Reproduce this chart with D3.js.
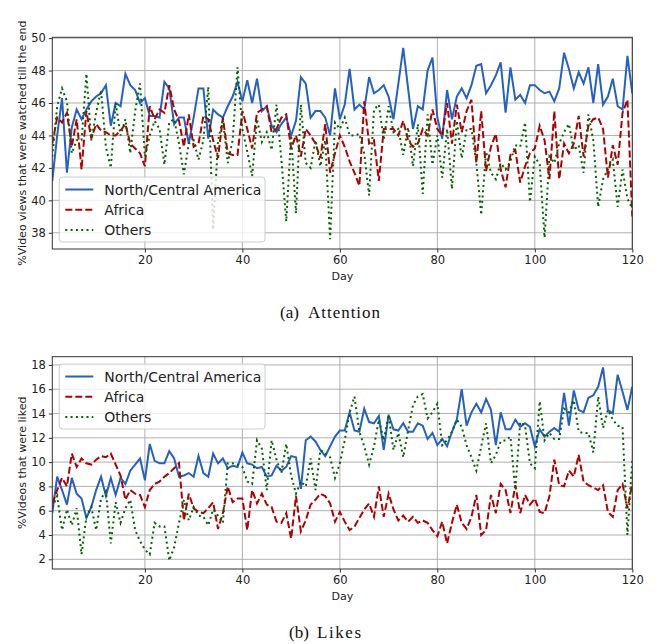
<!DOCTYPE html>
<html>
<head>
<meta charset="utf-8">
<script src="https://cdn.jsdelivr.net/npm/d3@7"></script>
<style>
  body { margin: 0; background: #fff; }
  svg text { font-family: "DejaVu Sans", sans-serif; fill: #222; }
  .caption { font-family: "Liberation Serif", "DejaVu Serif", serif; fill: #111; }
</style>
</head>
<body>
<svg id="chart" width="657" height="644"></svg>
<script>
const days = d3.range(1, 121)
const seriesNames = ['North/Central America', 'Africa', 'Others']

const attnNA = [41.2,44.0,46.3,41.7,44.5,45.6,45.0,45.6,46.1,46.4,46.6,47.1,44.6,46.0,45.8,47.8,47.1,46.8,46.0,46.3,
  45.2,45.2,45.1,47.3,46.9,44.7,45.1,45.1,43.5,45.1,46.9,46.9,43.8,45.6,45.3,45.1,45.8,46.4,47.3,46.1,
  47.4,46.0,47.5,45.5,45.8,44.6,44.2,44.7,45.1,44.0,44.9,47.6,47.2,45.1,45.5,45.5,45.1,44.0,46.9,45.0,
  45.9,48.1,45.6,45.9,45.6,47.6,46.6,46.8,47.1,46.4,45.0,47.2,49.4,46.9,44.4,45.8,45.6,48.0,48.8,45.1,
  43.8,46.8,45.0,46.4,46.9,46.3,47.1,48.3,48.4,46.6,47.1,47.7,48.5,45.4,48.2,46.2,46.5,46.0,47.1,47.1,
  46.8,46.6,46.7,46.1,46.9,49.1,48.1,46.9,47.9,47.2,48.2,46.0,48.4,45.9,46.4,47.5,45.8,45.6,48.9,46.6]
const attnAF = [43.5,45.1,44.8,45.4,43.3,45.0,41.9,45.5,43.8,44.7,44.3,44.2,44.0,44.0,44.3,44.7,43.5,43.2,42.9,42.1,
  45.8,45.0,45.6,45.4,47.1,45.6,44.9,43.3,45.3,43.3,43.5,45.2,45.0,43.7,42.6,45.1,42.9,42.8,42.8,45.5,
  44.4,43.2,45.4,45.6,45.8,44.2,44.4,45.1,45.3,43.2,44.0,42.7,44.4,44.0,43.5,42.6,44.7,41.7,42.9,44.0,
  43.3,42.4,41.7,40.9,46.1,43.5,43.7,41.2,44.4,44.4,44.4,44.0,44.9,43.7,43.3,43.5,44.4,44.0,45.6,44.4,
  44.0,46.0,43.5,45.9,44.2,45.5,46.2,42.3,45.5,41.8,43.3,44.1,41.9,40.8,42.8,43.1,41.1,42.1,42.9,43.2,
  44.6,43.7,41.3,45.5,41.3,43.5,42.9,43.5,45.2,42.7,44.6,45.0,45.1,44.4,41.4,43.4,42.2,45.4,46.2,39.0]
const attnOT = [42.7,45.8,46.9,46.1,42.9,43.7,43.7,47.8,43.7,45.4,46.8,43.3,42.0,46.0,44.0,45.0,42.9,45.5,47.2,42.7,
  44.0,44.9,44.4,42.2,44.8,45.0,43.5,41.6,43.5,43.7,42.5,43.7,47.0,38.2,43.7,45.0,42.3,43.7,48.2,44.4,
  43.0,41.5,45.0,43.6,44.2,43.1,45.9,42.5,38.7,44.0,39.2,45.9,42.3,42.0,43.7,42.1,43.7,37.6,44.8,44.4,
  45.1,44.0,44.0,44.1,42.9,40.3,45.6,45.9,43.7,45.8,44.2,44.4,42.8,44.5,42.1,44.7,40.4,45.3,42.2,44.0,
  41.4,44.4,40.7,44.9,42.6,44.4,44.4,42.3,39.1,43.0,41.7,41.3,42.3,41.9,42.4,43.4,43.3,44.8,39.9,42.7,
  42.2,37.7,42.7,42.3,43.5,44.2,44.7,43.1,43.4,41.7,45.3,43.7,39.6,41.3,41.9,42.5,39.6,41.9,40.1,39.5]

const likesNA = [5.8,8.8,7.7,6.5,8.7,7.4,7.0,5.4,6.3,7.7,8.8,7.2,8.7,7.3,8.7,8.2,9.3,9.8,10.3,8.5,
  11.5,10.1,9.9,9.9,10.9,10.3,8.8,8.9,9.1,8.8,10.5,9.1,8.8,10.7,9.9,10.3,9.5,9.7,9.6,10.8,
  9.9,9.8,9.5,9.6,8.8,8.9,9.7,9.3,9.6,10.5,10.4,7.8,11.8,12.1,11.7,11.0,10.5,11.3,12.1,12.6,
  12.6,14.1,12.6,12.5,14.4,13.3,13.2,13.8,11.0,13.9,12.7,12.6,13.2,12.5,12.5,13.2,13.0,11.9,12.4,11.4,
  11.9,11.3,12.5,13.5,16.0,13.0,14.1,14.8,14.1,15.2,14.3,11.4,14.1,12.7,12.7,13.5,12.9,13.2,12.9,11.3,
  12.7,12.1,12.5,12.8,12.5,15.7,13.0,15.9,14.3,14.1,15.3,15.5,16.2,17.8,14.3,14.0,17.2,15.8,14.3,16.2]
const likesAF = [6.6,7.7,8.7,8.0,10.7,9.6,10.3,9.9,9.8,10.2,10.5,10.4,10.7,9.8,8.9,6.9,7.7,7.4,7.3,6.3,
  7.7,8.2,8.4,8.8,9.1,9.5,9.9,5.2,7.4,6.2,5.9,5.8,6.2,6.7,4.5,5.8,8.0,6.7,7.0,7.0,
  4.4,7.7,6.6,7.4,6.5,6.3,5.1,5.0,5.8,3.7,7.2,4.3,5.2,6.5,6.9,7.4,7.2,6.6,5.1,5.9,
  5.1,4.4,4.7,5.4,6.1,6.6,5.5,8.0,5.5,7.4,6.1,5.2,5.6,5.1,5.5,5.0,5.2,5.0,4.4,3.9,
  5.1,3.3,5.0,6.5,5.0,4.5,5.5,7.3,4.0,4.4,7.3,5.8,8.2,7.7,5.8,8.1,5.8,7.3,6.5,7.0,
  5.9,5.8,7.2,10.2,8.1,8.0,9.3,8.8,10.6,8.4,8.1,7.9,7.7,8.1,5.9,5.5,7.7,8.2,6.2,8.2]
const likesOT = [6.3,7.2,4.4,6.1,4.8,6.2,2.4,5.5,6.3,4.4,7.0,7.6,3.3,6.7,5.0,6.2,6.9,4.4,3.5,2.8,
  2.4,5.0,4.7,4.7,1.9,3.0,5.0,6.9,5.2,6.3,5.6,5.5,4.8,6.1,5.6,5.0,9.9,9.9,9.8,9.6,
  8.4,8.2,11.8,11.1,7.7,11.8,10.2,9.1,11.5,8.9,7.4,8.4,8.0,10.3,7.7,11.0,10.7,10.4,8.7,9.9,
  11.8,14.1,15.4,12.5,11.3,9.8,11.3,13.5,11.8,13.9,11.0,12.4,10.4,12.6,14.7,15.4,15.6,13.6,14.1,14.8,
  11.4,11.8,12.5,13.5,12.9,11.4,10.4,9.3,11.3,13.2,9.9,10.6,11.7,11.8,12.1,7.7,13.3,13.0,9.9,9.5,
  15.0,11.8,12.4,11.9,11.9,14.4,14.1,15.1,12.5,12.4,12.4,10.8,15.4,12.8,14.3,13.5,13.0,12.9,4.0,10.2]

const xTicks = [20, 40, 60, 80, 100, 120]
const attnTicks = [38, 40, 42, 44, 46, 48, 50]
const likesTicks = [2, 4, 6, 8, 10, 12, 14, 16, 18]

const styles = [
  { color: '#2461c5', dash: null },
  { color: '#b00000', dash: '7,3' },
  { color: '#006400', dash: '2,3.3' }
]

const svg = d3.select('#chart')
const left = 52.3, right = 632.3

function drawPanel(cfg) {
  const { top, bottom, domain, ticks, series, ylabel, caption, legendTop } = cfg
  const x = d3.scaleLinear().domain([1, 120]).range([left, right])
  const y = d3.scaleLinear().domain(domain).range([bottom, top])
  const g = svg.append('g')

  // grid
  g.append('g').selectAll('line').data(ticks).enter().append('line')
    .attr('x1', left).attr('x2', right)
    .attr('y1', d => y(d)).attr('y2', d => y(d))
    .attr('stroke', '#b0b0b0').attr('stroke-width', 1)
  g.append('g').selectAll('line').data(xTicks).enter().append('line')
    .attr('y1', top).attr('y2', bottom)
    .attr('x1', d => x(d)).attr('x2', d => x(d))
    .attr('stroke', '#b0b0b0').attr('stroke-width', 1)

  const clipId = 'clip' + Math.round(top)
  svg.append('clipPath').attr('id', clipId).append('rect')
    .attr('x', left).attr('y', top).attr('width', right - left).attr('height', bottom - top)

  const line = d3.line().x((d, i) => x(days[i])).y(d => y(d))
  series.forEach((s, i) => {
    g.append('path').datum(s)
      .attr('clip-path', `url(#${clipId})`)
      .attr('d', line)
      .attr('fill', 'none')
      .attr('stroke', styles[i].color)
      .attr('stroke-width', 2)
      .attr('stroke-dasharray', styles[i].dash)
  })

  // axes
  const xAxis = d3.axisBottom(x).tickValues(xTicks).tickSize(3.5).tickPadding(3)
  const yAxis = d3.axisLeft(y).tickValues(ticks).tickSize(3.5).tickPadding(3)
  const gx = g.append('g').attr('transform', `translate(0, ${bottom})`).call(xAxis)
  const gy = g.append('g').attr('transform', `translate(${left}, 0)`).call(yAxis)
  ;[gx, gy].forEach(a => {
    a.select('.domain').remove()
    a.selectAll('.tick line').attr('stroke', '#333')
    a.selectAll('.tick text').attr('font-size', 11.5).attr('font-family', 'DejaVu Sans').attr('fill', '#222')
  })
  g.append('rect')
    .attr('x', left).attr('y', top).attr('width', right - left).attr('height', bottom - top)
    .attr('fill', 'none').attr('stroke', '#333').attr('stroke-width', 1)

  g.append('text').attr('x', (left + right) / 2).attr('y', bottom + 31)
    .attr('text-anchor', 'middle').attr('font-size', 11).text('Day')
  g.append('text')
    .attr('transform', `translate(26, ${(top + bottom) / 2}) rotate(-90)`)
    .attr('text-anchor', 'middle').attr('font-size', 11).text(ylabel)

  // caption: label and title as two pieces so the wide gap survives
  const cap = g.append('text').attr('class', 'caption')
    .attr('y', bottom + 69).attr('font-size', 17)
  cap.append('tspan').attr('x', caption.x).text(caption.tag)
  cap.append('tspan').attr('x', caption.x + 28)
    .attr('textLength', caption.len).attr('lengthAdjust', 'spacing').text(caption.title)

  // legend
  const lg = g.append('g').attr('transform', `translate(59.3, ${legendTop})`)
  lg.append('rect').attr('width', 205.7).attr('height', 65).attr('rx', 3)
    .attr('fill', 'rgba(255,255,255,0.8)').attr('stroke', '#cccccc').attr('stroke-width', 1)
  seriesNames.forEach((name, i) => {
    const ry = 12.5 + i * 20.2
    lg.append('line').attr('x1', 6).attr('x2', 34).attr('y1', ry).attr('y2', ry)
      .attr('stroke', styles[i].color).attr('stroke-width', 2)
      .attr('stroke-dasharray', styles[i].dash)
    lg.append('text').attr('x', 45).attr('y', ry + 5).attr('font-size', 14).text(name)
  })
}

drawPanel({ top: 37.3, bottom: 249, domain: [37.0, 50.05], ticks: attnTicks,
  series: [attnNA, attnAF, attnOT], ylabel: '%Video views that were watched till the end',
  caption: { tag: '(a)', title: 'Attention', x: 280, len: 72 }, legendTop: 177 })
drawPanel({ top: 356.7, bottom: 569, domain: [1.2, 18.68], ticks: likesTicks,
  series: [likesNA, likesAF, likesOT], ylabel: '%Videos that were liked',
  caption: { tag: '(b)', title: 'Likes', x: 289, len: 44 }, legendTop: 364 })
</script>
</body>
</html>
